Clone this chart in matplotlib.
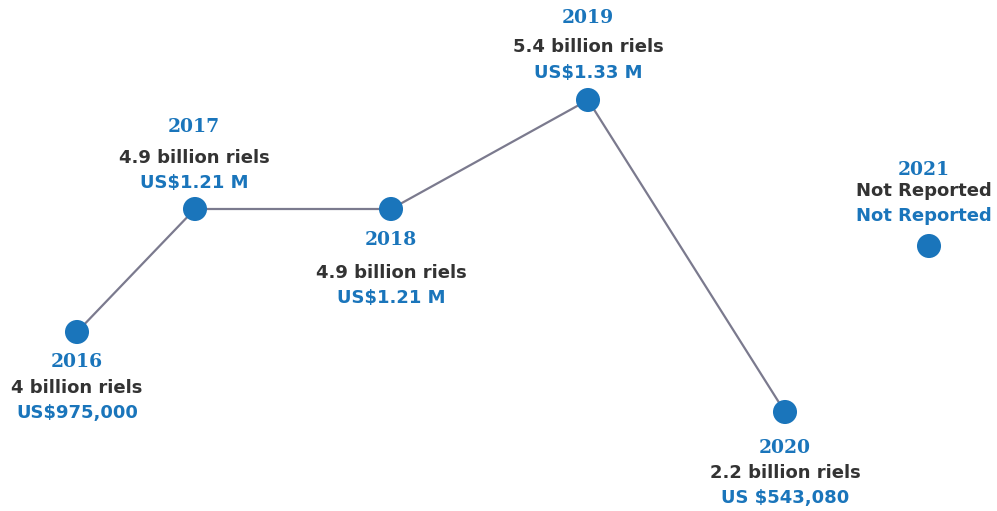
import matplotlib
matplotlib.use("Agg")
import matplotlib.pyplot as plt

years = ["2016", "2017", "2018", "2019", "2020", "2021"]
riels = ["4 billion riels", "4.9 billion riels", "4.9 billion riels",
         "5.4 billion riels", "2.2 billion riels", "Not Reported"]
usd = ["US$975,000", "US$1.21 M", "US$1.21 M", "US$1.33 M",
       "US $543,080", "Not Reported"]
# illustrative positions of the points along the timeline
x_pos = [77, 195, 391, 588, 785, 929]
level = [179, 302, 302, 411, 99, 265]   # height above bottom of chart
reported = [True, True, True, True, True, False]

BLUE = "#1a75bb"
DARK = "#333333"
LINE = "#7b7a8e"

# label offsets (points) relative to each marker: year, riels, usd
label_offsets = [(-30, -56, -81), (82, 51, 26), (-31, -64, -89),
                 (82, 53, 27), (-36, -61, -86), (76, 55, 30)]
label_dx = [0, -1, 0, 0, 0, -5]

fig = plt.figure(figsize=(9.97, 5.11), dpi=100)
ax = fig.add_axes([0, 0, 1, 1])
ax.set_xlim(0, 997)
ax.set_ylim(0, 511)
ax.axis("off")

rx = [x for x, r in zip(x_pos, reported) if r]
ry = [y for y, r in zip(level, reported) if r]
ax.plot(rx, ry, color=LINE, lw=1.6, zorder=1)
ax.scatter(x_pos, level, s=300, color=BLUE, zorder=2, edgecolors="none")

for i in range(len(years)):
    x, y = x_pos[i] + label_dx[i], level[i]
    oy = label_offsets[i]
    ax.text(x, y + oy[0], years[i], ha="center", va="center", color=BLUE,
            fontsize=13.5, fontweight="bold", family="DejaVu Serif")
    ax.text(x, y + oy[1], riels[i], ha="center", va="center", color=DARK,
            fontsize=13, fontweight="bold", family="DejaVu Sans")
    ax.text(x, y + oy[2], usd[i], ha="center", va="center", color=BLUE,
            fontsize=13, fontweight="bold", family="DejaVu Sans")

fig.savefig("out.png", dpi=100)
